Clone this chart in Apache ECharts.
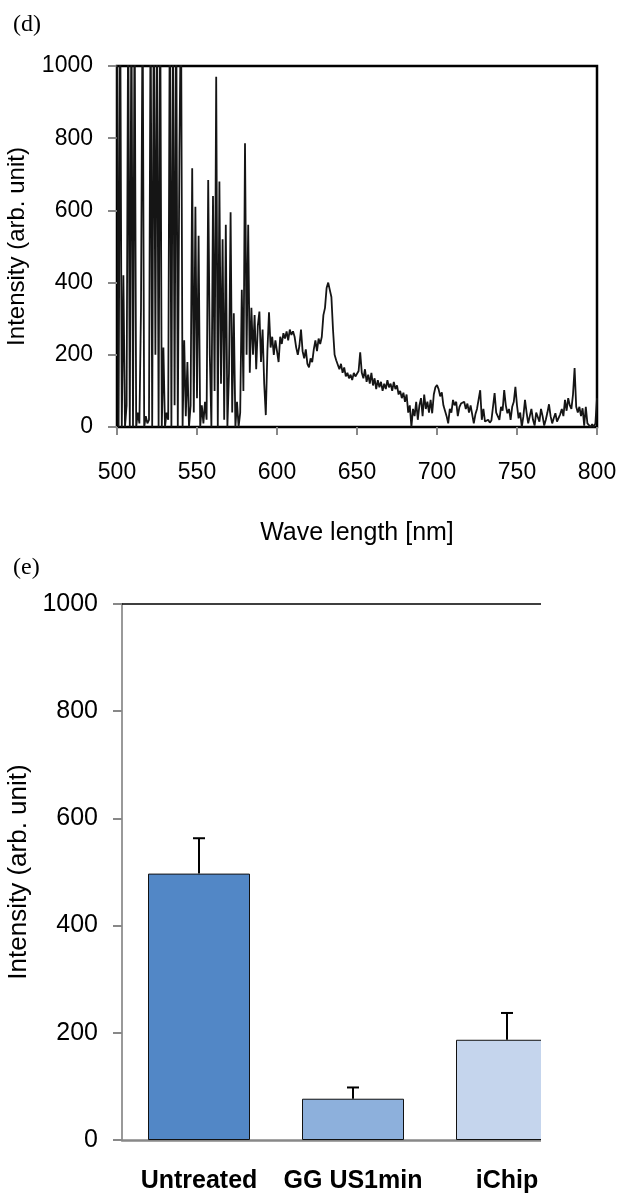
<!DOCTYPE html>
<html>
<head>
<meta charset="utf-8">
<script src="https://cdn.jsdelivr.net/npm/echarts@6/dist/echarts.min.js"></script>
<style>
  html, body { margin: 0; padding: 0; background: #fff; }
  #spec { position: absolute; left: 0; top: 0; width: 620px; height: 545px; }
  #barWrap { position: absolute; left: 0; top: 545px; width: 541px; height: 648px; overflow: hidden; }
  #bars { width: 620px; height: 648px; }
</style>
</head>
<body>
<div id="spec"></div>
<div id="barWrap"><div id="bars"></div></div>
<script>
// (d) spectrum, 1 nm steps starting at 500 nm
var waveStart = 500;
var spec500 = [1200, 0, 1200, 0, 420, 0, 60, 1200, 0, 1200,
  0, 1200, 0, 40, 10, 330, 1200, 0, 30, 10,
  20, 1200, 0, 1200, 200, 1200, 0, 1200, 0, 220,
  0, 40, 20, 1200, 0, 1200, 60, 1200, 0, 760,
  1200, 0, 240, 30, 180, 0, 60, 717, 40, 610,
  80, 530, 0, 60, 10, 70, 20, 684, 200, 0,
  640, 100, 970, 0, 680, 120, 520, 20, 560, 0,
  150, 595, 40, 315, 0, 70, 0, 40, 380, 100,
  786, 200, 560, 150, 330, 200, 310, 160, 280, 320,
  180, 270, 120, 33, 210, 318, 220, 250, 200, 240];
var spec600 = [240, 180, 250, 230, 260, 245, 265, 240, 270, 255,
  265, 250, 220, 200, 225, 270, 210, 190, 215, 175,
  165, 190, 180, 215, 240, 210, 245, 230, 250, 310,
  330, 385, 400, 380, 360, 270, 200, 185, 190, 160,
  175, 150, 165, 140, 150, 135, 145, 130, 150, 140,
  135, 155, 207, 150, 135, 160, 125, 145, 120, 150,
  115, 135, 105, 130, 110, 125, 100, 120, 105, 130,
  110, 120, 100, 125, 105, 115, 90, 100, 80, 95,
  70, 90, 40, 60, 0, 50, 30, 70, 20, 60,
  80, 30, 90, 50, 70, 40, 75, 38, 90, 110];
var spec700 = [116, 105, 85, 96, 60, 45, 30, 10, 50, 40,
  75, 60, 70, 30, 55, 65, 60, 70, 50, 65,
  40, 60, 55, 10, 35, 50, 45, 102, 20, 50,
  15, 10, 20, 12, 18, 15, 94, 40, 38, 20,
  56, 45, 102, 60, 38, 50, 20, 56, 70, 111,
  60, 24, 40, 0, 30, 75, 40, 10, 30, 50,
  20, 4, 40, 38, 15, 50, 30, 4, 20, 40,
  63, 30, 10, 25, 38, 15, 20, 35, 50, 30,
  75, 45, 80, 60, 50, 90, 163, 56, 40, 56,
  30, 52, 4, 56, 10, 5, 0, 8, 0, 10,
  80];
var specTicks = [500, 550, 600, 650, 700, 750, 800];

// (e) bar chart
var groups = ['Untreated', 'GG US1min', 'iChip'];
var means = [497, 77, 187];
var errors = [66, 21, 50];
var barColors = ['#5287c6', '#8db0dc', '#c5d5ed'];

var intensity = spec500.concat(spec600, spec700);
var spectrum = intensity.map(function (v, i) { return [waveStart + i, v]; });
var plain = function (v) { return String(v); };

var chartD = echarts.init(document.getElementById('spec'));
chartD.setOption({
  animation: false,
  title: {
    text: '(d)', left: 8, top: 8,
    textStyle: { fontFamily: 'Liberation Serif', fontSize: 24, fontWeight: 'normal', color: '#000' }
  },
  grid: {
    left: 117, right: 23, top: 66, bottom: 118, outerBoundsMode: 'none',
    show: true, borderColor: '#000', borderWidth: 2.5
  },
  xAxis: {
    type: 'value', min: specTicks[0], max: specTicks[specTicks.length - 1], interval: 50,
    name: 'Wave length [nm]', nameLocation: 'middle', nameGap: 94,
    nameTextStyle: { fontFamily: 'Liberation Sans', fontSize: 25, color: '#000' },
    axisLine: { lineStyle: { color: '#000', width: 1.5 } },
    axisTick: { length: 8, lineStyle: { color: '#888', width: 2 } },
    axisLabel: { margin: 34, fontFamily: 'Liberation Sans', fontSize: 23, color: '#000', formatter: plain },
    splitLine: { show: false }
  },
  yAxis: {
    type: 'value', min: 0, max: 1000, interval: 200,
    name: 'Intensity (arb. unit)', nameLocation: 'middle', nameGap: 88,
    nameTextStyle: { fontFamily: 'Liberation Sans', fontSize: 24, color: '#000' },
    axisLine: { show: true, lineStyle: { color: '#000', width: 2 } },
    axisTick: { show: true, length: 9, lineStyle: { color: '#888', width: 2 } },
    axisLabel: { margin: 24, fontFamily: 'Liberation Sans', fontSize: 23, color: '#000', formatter: plain },
    splitLine: { show: false }
  },
  series: [{
    type: 'line', data: spectrum, showSymbol: false, clip: true,
    lineStyle: { color: '#151515', width: 1.8 }
  }]
});

var chartE = echarts.init(document.getElementById('bars'));
chartE.setOption({
  animation: false,
  title: {
    text: '(e)', left: 8, top: 6,
    textStyle: { fontFamily: 'Liberation Serif', fontSize: 24, fontWeight: 'normal', color: '#000' }
  },
  grid: { left: 122, right: 36, top: 59, bottom: 53, outerBoundsMode: 'none' },
  xAxis: [{
    type: 'category', data: groups,
    axisLine: { lineStyle: { color: '#888', width: 2.5 } },
    axisTick: { length: 9, lineStyle: { color: '#888', width: 2 } },
    axisLabel: { interval: 0, margin: 29, fontFamily: 'Liberation Sans', fontSize: 25, fontWeight: 'bold', color: '#000' }
  }, {
    type: 'category', data: groups, position: 'top',
    axisLine: { lineStyle: { color: '#000', width: 1.5 } },
    axisTick: { show: false }, axisLabel: { show: false }
  }],
  yAxis: {
    type: 'value', min: 0, max: 1000, interval: 200,
    name: 'Intensity (arb. unit)', nameLocation: 'middle', nameGap: 90,
    nameTextStyle: { fontFamily: 'Liberation Sans', fontSize: 26, color: '#000' },
    axisLine: { show: true, lineStyle: { color: '#999', width: 2 } },
    axisTick: { show: true, length: 9, lineStyle: { color: '#888', width: 2 } },
    axisLabel: { margin: 24, fontFamily: 'Liberation Sans', fontSize: 25, color: '#000', formatter: plain },
    splitLine: { show: false }
  },
  series: [{
    type: 'bar', barWidth: 102,
    data: means.map(function (v, i) {
      return { value: v, itemStyle: { color: barColors[i], borderColor: '#111', borderWidth: 1 } };
    })
  }, {
    type: 'custom', z: 5,
    data: means.map(function (v, i) { return [i, v, v + errors[i]]; }),
    encode: { x: 0, y: [1, 2] },
    renderItem: function (params, api) {
      var base = api.coord([api.value(0), api.value(1)]);
      var top = api.coord([api.value(0), api.value(2)]);
      var hw = 6;
      return {
        type: 'group',
        children: [
          { type: 'line', shape: { x1: base[0], y1: base[1], x2: top[0], y2: top[1] },
            style: { stroke: '#000', lineWidth: 2 } },
          { type: 'line', shape: { x1: top[0] - hw, y1: top[1], x2: top[0] + hw, y2: top[1] },
            style: { stroke: '#000', lineWidth: 2 } }
        ]
      };
    }
  }]
});
</script>
</body>
</html>
